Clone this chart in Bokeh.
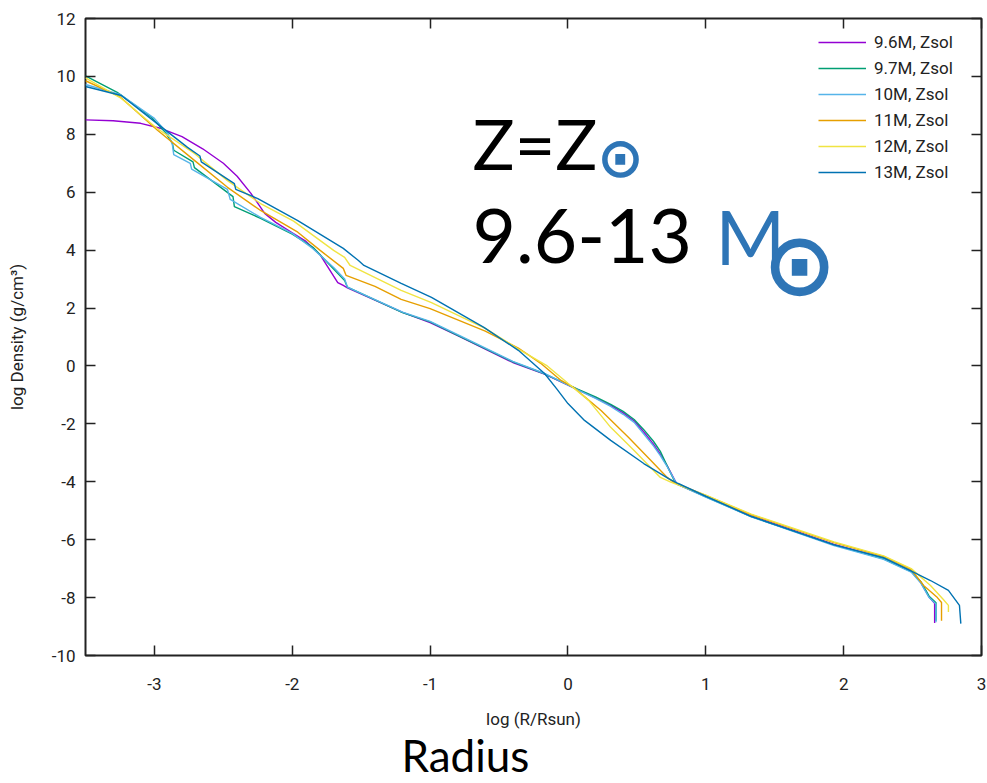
from bokeh.plotting import figure
from bokeh.models import LinearAxis, FixedTicker, Label, Legend, LegendItem, Title, Range1d
from bokeh.embed import file_html
from bokeh.resources import INLINE

# ---------------- data ----------------
series_labels = ["9.6M, Zsol", "9.7M, Zsol", "10M, Zsol", "11M, Zsol", "12M, Zsol", "13M, Zsol"]
series_colors = ["#9400d3", "#009e73", "#56b4e9", "#e69f00", "#f0e442", "#0072b2"]

x_96 = [-3.5, -3.3, -3.1, -2.95, -2.8, -2.65, -2.5, -2.4, -2.3, -2.2, -2.12, -2.0, -1.9, -1.8, -1.7,
        -1.67, -1.63, -1.6, -1.2, -1.0, -0.8, -0.4, -0.17, 0.07, 0.2, 0.31, 0.4, 0.48, 0.55, 0.62, 0.67,
        0.72, 0.79, 1.0, 1.33, 1.93, 2.29, 2.49, 2.56, 2.62, 2.66, 2.66]
y_96 = [8.5, 8.47, 8.38, 8.2, 7.92, 7.5, 7.0, 6.55, 5.96, 5.27, 4.96, 4.6, 4.3, 3.85, 3.1,
        2.88, 2.78, 2.7, 1.85, 1.5, 1.05, 0.12, -0.28, -0.82, -1.1, -1.36, -1.62, -1.9, -2.28, -2.7, -3.05,
        -3.45, -4.08, -4.5, -5.18, -6.16, -6.64, -7.08, -7.48, -7.98, -8.2, -8.88]

x_97 = [-3.5, -3.27, -3.02, -2.92, -2.87, -2.86, -2.72, -2.71, -2.43, -2.42, -2.23, -2.0, -1.85, -1.7,
        -1.62, -1.6, -1.2, -1.0, -0.8, -0.4, -0.17, 0.07, 0.2, 0.31, 0.4, 0.48, 0.55, 0.62, 0.67, 0.71,
        0.78, 1.0, 1.33, 1.93, 2.29, 2.49, 2.56, 2.62, 2.67, 2.67]
y_97 = [10.02, 9.45, 8.58, 8.06, 7.7, 7.45, 7.05, 6.85, 5.85, 5.5, 5.1, 4.55, 4.1, 3.35,
        2.95, 2.72, 1.84, 1.52, 1.06, 0.14, -0.27, -0.8, -1.07, -1.33, -1.57, -1.85, -2.2, -2.6, -2.95, -3.35,
        -4.05, -4.52, -5.2, -6.18, -6.66, -7.1, -7.45, -7.95, -8.18, -8.8]

x_10 = [-3.5, -3.25, -3.0, -2.9, -2.87, -2.86, -2.74, -2.73, -2.47, -2.45, -2.23, -2.0, -1.85, -1.7,
        -1.62, -1.6, -1.2, -1.0, -0.8, -0.4, -0.17, 0.07, 0.2, 0.31, 0.4, 0.48, 0.55, 0.62, 0.67, 0.72,
        0.79, 1.0, 1.33, 1.93, 2.29, 2.49, 2.56, 2.62, 2.67, 2.67]
y_10 = [9.72, 9.38, 8.55, 8.0, 7.65, 7.3, 7.0, 6.8, 6.1, 5.75, 5.13, 4.58, 4.05, 3.4,
        3.0, 2.72, 1.86, 1.54, 1.08, 0.16, -0.26, -0.83, -1.12, -1.4, -1.67, -1.95, -2.35, -2.76, -3.1, -3.48,
        -4.08, -4.53, -5.21, -6.2, -6.68, -7.12, -7.5, -8.0, -8.22, -8.85]

x_11 = [-3.5, -3.25, -2.98, -2.71, -2.47, -2.23, -1.96, -1.8, -1.63, -1.61, -1.4, -1.21, -1.0, -0.6,
        -0.36, -0.2, -0.05, 0.04, 0.24, 0.44, 0.6, 0.72, 0.77, 1.0, 1.33, 1.93, 2.29, 2.49, 2.58, 2.68,
        2.71, 2.71]
y_11 = [9.85, 9.3, 8.15, 7.1, 6.17, 5.37, 4.62, 4.0, 3.37, 3.13, 2.75, 2.30, 1.98, 1.2,
        0.62, 0.1, -0.5, -0.74, -1.54, -2.47, -3.26, -3.85, -4.03, -4.47, -5.14, -6.1, -6.58, -7.03, -7.58, -8.0,
        -8.17, -8.8]

x_12 = [-3.5, -3.24, -2.98, -2.71, -2.47, -2.23, -1.99, -1.7, -1.62, -1.58, -1.21, -0.99, -0.6, -0.36,
        -0.15, 0.0, 0.15, 0.31, 0.48, 0.67, 0.75, 1.0, 1.33, 1.93, 2.29, 2.49, 2.63, 2.72, 2.76, 2.76]
y_12 = [9.95, 9.24, 8.2, 7.34, 6.4, 5.61, 5.0, 3.99, 3.75, 3.47, 2.61, 2.19, 1.3, 0.58,
        0.0, -0.6, -1.19, -2.12, -2.92, -3.85, -4.02, -4.46, -5.12, -6.08, -6.56, -7.0, -7.58, -8.05, -8.27, -8.5]

x_13 = [-3.5, -3.24, -2.98, -2.76, -2.67, -2.66, -2.42, -2.41, -2.25, -1.96, -1.63, -1.52, -1.48, -1.21,
        -0.99, -0.61, -0.36, -0.17, -0.08, 0.0, 0.12, 0.31, 0.55, 0.73, 0.8, 1.0, 1.33, 1.93, 2.29, 2.51,
        2.63, 2.76, 2.84, 2.85]
y_13 = [9.65, 9.34, 8.37, 7.55, 7.25, 7.05, 6.3, 6.1, 5.78, 5.02, 4.06, 3.64, 3.47, 2.85,
        2.37, 1.33, 0.54, -0.26, -0.8, -1.3, -1.88, -2.57, -3.37, -3.89, -4.06, -4.5, -5.2, -6.18, -6.62, -7.13,
        -7.41, -7.75, -8.27, -8.9]

series_x = [x_96, x_97, x_10, x_11, x_12, x_13]
series_y = [y_96, y_97, y_10, y_11, y_12, y_13]

x_ticks = [-3, -2, -1, 0, 1, 2, 3]
y_ticks = [-10, -8, -6, -4, -2, 0, 2, 4, 6, 8, 10, 12]

# ---------------- figure ----------------
TICK_FONT = "Roboto"
p = figure(width=987, height=783, x_range=Range1d(-3.5, 3), y_range=Range1d(-10, 12),
           output_backend="svg", toolbar_location=None,
           min_border_left=85, min_border_right=6, min_border_top=18, min_border_bottom=128,
           x_axis_label="log (R/Rsun)", y_axis_label="log Density (g/cm³)")
p.grid.visible = False
p.outline_line_color = "#222222"
p.outline_line_width = 2
p.background_fill_color = "white"
p.border_fill_color = "white"

def style_axis(ax, ticks):
    ax.ticker = FixedTicker(ticks=ticks)
    ax.axis_line_color = None
    ax.major_tick_in = 10
    ax.major_tick_out = 0
    ax.major_tick_line_color = "#222222"
    ax.major_tick_line_width = 1.5
    ax.minor_tick_line_color = None

style_axis(p.xaxis[0], x_ticks)
style_axis(p.yaxis[0], y_ticks)
p.xaxis[0].major_label_overrides = {t: str(t) for t in x_ticks}
p.yaxis[0].major_label_overrides = {t: str(t) for t in y_ticks}
for ax in (p.xaxis[0], p.yaxis[0]):
    ax.major_label_text_font = TICK_FONT
    ax.major_label_text_font_size = "17px"
    ax.major_label_text_color = "#222222"
    ax.axis_label_text_font = TICK_FONT
    ax.axis_label_text_font_style = "normal"
    ax.axis_label_text_color = "#222222"
p.xaxis[0].major_label_standoff = 22
p.xaxis[0].axis_label_standoff = 16
p.xaxis[0].axis_label_text_font_size = "17px"
p.yaxis[0].major_label_standoff = 10
p.yaxis[0].axis_label_standoff = 22
p.yaxis[0].axis_label_text_font_size = "17px"

# mirrored tick marks on the top and right sides (no labels)
top_axis = LinearAxis(major_label_text_font_size="1px", major_label_text_color=None,
                      major_label_standoff=0)
style_axis(top_axis, x_ticks)
p.add_layout(top_axis, "above")
right_axis = LinearAxis(major_label_text_font_size="1px", major_label_text_color=None,
                        major_label_standoff=0)
style_axis(right_axis, y_ticks)
p.add_layout(right_axis, "right")

items = []
for name, col, xs, ys in zip(series_labels, series_colors, series_x, series_y):
    r = p.line(xs, ys, line_color=col, line_width=1.4)
    items.append(LegendItem(label=name, renderers=[r]))

legend = Legend(items=items, location=(733, 473), border_line_color=None,
                background_fill_alpha=0, label_text_font=TICK_FONT, label_text_font_size="17px",
                label_text_color="#222222", glyph_width=48, glyph_height=20, label_height=20,
                spacing=6, padding=5, margin=0, label_standoff=8)
p.add_layout(legend)

BLUE = "#2e75b6"
common = dict(x_units="screen", y_units="screen", text_baseline="alphabetic")
p.add_layout(Label(x=387, y=513, text="Z=Z", text_color="black", text_font="Lato",
                   text_font_size="70px", **common))
p.add_layout(Label(x=387, y=420, text="9.6-13", text_color="black", text_font="Lato",
                   text_font_size="75px", **common))
p.add_layout(Label(x=630, y=420, text="M", text_color=BLUE, text_font="Lato",
                   text_font_size="75px", **common))
p.add_layout(Label(x=535, y=498, text="⊙", text_color=BLUE, text_font="DejaVu Sans",
                   text_font_size="56px", text_align="center", text_font_style="bold", **common))
p.add_layout(Label(x=714, y=391, text="⊙", text_color=BLUE, text_font="DejaVu Sans",
                   text_font_size="88px", text_align="center", text_font_style="bold", **common))

p.add_layout(Title(text="Radius", align="left", offset=316, text_font="Lato",
                   text_font_size="44px", text_font_style="normal", text_color="black",
                   standoff=-10), "below")

open("out.html", "w").write(file_html(p, INLINE))
